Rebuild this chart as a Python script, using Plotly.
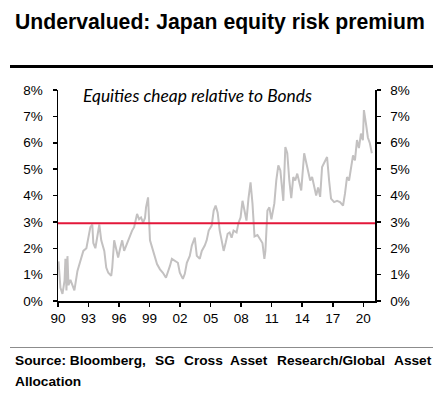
import plotly.graph_objects as go

# ---- data (decimal years, equity risk premium in %) ----
years = [1990.05, 1990.24, 1990.44, 1990.64, 1990.73, 1990.83, 1990.93, 1991.03, 1991.22, 1991.42,
         1991.61, 1991.91, 1992.20, 1992.49, 1992.79, 1992.98, 1993.18, 1993.37, 1993.47, 1993.67,
         1993.86, 1994.06, 1994.25, 1994.55, 1994.74, 1994.94, 1995.23, 1995.33, 1995.52, 1995.72,
         1995.91, 1996.11, 1996.31, 1996.50, 1996.70, 1996.89, 1997.09, 1997.28, 1997.48, 1997.77,
         1997.97, 1998.16, 1998.36, 1998.55, 1998.65, 1998.85, 1999.04, 1999.34, 1999.73, 2000.02,
         2000.31, 2000.61, 2000.80, 2001.00, 2001.19, 2001.49, 2001.78, 2001.97, 2002.27, 2002.46,
         2002.66, 2002.95, 2003.15, 2003.44, 2003.64, 2003.93, 2004.13, 2004.42, 2004.61, 2004.81,
         2005.10, 2005.30, 2005.49, 2005.69, 2005.89, 2006.08, 2006.28, 2006.47, 2006.67, 2006.86,
         2007.06, 2007.25, 2007.55, 2007.74, 2007.94, 2008.13, 2008.33, 2008.52, 2008.72, 2008.92,
         2009.11, 2009.31, 2009.60, 2009.89, 2010.09, 2010.28, 2010.38, 2010.58, 2010.77, 2010.97,
         2011.26, 2011.45, 2011.65, 2011.85, 2012.04, 2012.14, 2012.34, 2012.53, 2012.73, 2012.92,
         2013.12, 2013.31, 2013.51, 2013.71, 2013.90, 2014.19, 2014.39, 2014.58, 2014.78, 2014.97,
         2015.17, 2015.37, 2015.56, 2015.76, 2015.95, 2016.25, 2016.44, 2016.64, 2016.83, 2017.13,
         2017.42, 2017.71, 2018.01, 2018.20, 2018.40, 2018.60, 2018.79, 2018.99, 2019.18, 2019.38,
         2019.57, 2019.77, 2019.96, 2020.06, 2020.26, 2020.45, 2020.65, 2020.84]
erp = [1.50, 0.50, 0.27, 0.76, 1.60, 0.40, 1.70, 0.60, 0.80, 0.60,
       0.40, 1.14, 1.50, 1.90, 2.00, 2.40, 2.80, 2.90, 2.20, 2.00,
       2.40, 2.90, 2.30, 1.90, 1.27, 1.07, 0.95, 1.26, 2.30, 2.00,
       1.65, 2.00, 2.30, 1.90, 2.10, 2.30, 2.55, 2.67, 2.80, 3.30,
       3.10, 3.17, 2.97, 3.15, 3.55, 3.93, 2.30, 1.90, 1.40, 1.20,
       1.07, 0.88, 1.07, 1.33, 1.60, 1.52, 1.45, 1.07, 0.84, 1.03,
       1.45, 1.71, 2.10, 2.40, 1.71, 1.60, 1.90, 2.10, 2.30, 2.67,
       2.86, 3.43, 3.62, 3.35, 2.67, 2.30, 1.90, 2.20, 2.55, 2.60,
       2.40, 2.67, 2.60, 2.97, 3.17, 3.80, 3.43, 3.05, 3.90, 4.50,
       3.70, 2.45, 2.50, 2.35, 2.20, 1.60, 1.90, 3.43, 3.55, 3.10,
       3.70, 4.57, 5.14, 4.95, 4.19, 3.80, 5.84, 5.60, 4.57, 3.90,
       4.70, 4.57, 4.83, 4.45, 4.19, 5.60, 5.20, 4.83, 4.57, 4.70,
       4.30, 4.00, 4.30, 3.95, 5.08, 5.33, 5.46, 4.57, 3.88, 3.75,
       3.80, 3.75, 3.62, 4.07, 4.70, 4.57, 5.02, 5.52, 5.33, 6.10,
       5.80, 6.35, 6.10, 7.24, 6.73, 6.20, 5.97, 5.60]
threshold = 2.95
x_tickvals = [1990, 1993, 1996, 1999, 2002, 2005, 2008, 2011, 2014, 2017, 2020]
x_ticktext = ["90", "93", "96", "99", "02", "05", "08", "11", "14", "17", "20"]
y_tickvals = [0, 1, 2, 3, 4, 5, 6, 7, 8]
y_ticktext = ["0%", "1%", "2%", "3%", "4%", "5%", "6%", "7%", "8%"]
x_range = [1990, 2021.15]

title_text = "Undervalued: Japan equity risk premium"
note_text = "Equities cheap relative to Bonds"
source_words = ["Source: Bloomberg,", "SG", "Cross", "Asset", "Research/Global", "Asset"]
source_line2 = "Allocation"

# ---- layout geometry ----
W, H = 444, 397
L, R, T, B = 58, 69, 90, 96
PW, PH = W - L - R, H - T - B


def px(xp):
    return (xp - L) / PW


def py(yp):
    return (H - B - yp) / PH


FONT = "Liberation Sans, Arial, sans-serif"

fig = go.Figure()
fig.add_trace(go.Scatter(x=years, y=erp, mode="lines",
                         line=dict(color="#c3c1c1", width=2), hoverinfo="skip",
                         showlegend=False))
fig.add_trace(go.Scatter(x=x_range, y=[threshold, threshold], mode="lines",
                         line=dict(color="#e3173a", width=2), hoverinfo="skip",
                         showlegend=False))
fig.add_trace(go.Scatter(x=[x_range[0]], y=[None], yaxis="y2", showlegend=False,
                         hoverinfo="skip"))

axis_common = dict(showgrid=False, zeroline=False, showline=True, linecolor="black",
                   linewidth=1.5, ticks="outside", tickcolor="black", tickwidth=1.5,
                   tickfont=dict(family=FONT, size=13.5, color="black"))

fig.update_layout(
    width=W, height=H, autosize=False,
    margin=dict(l=L, r=R, t=T, b=B, pad=0),
    paper_bgcolor="white", plot_bgcolor="white",
    xaxis=dict(range=x_range, tickvals=x_tickvals, ticktext=x_ticktext, ticklen=4,
               ticklabelstandoff=0, **axis_common),
    yaxis=dict(range=[0, 8], tickvals=y_tickvals, ticktext=y_ticktext, ticklen=4,
               ticklabelstandoff=7, **axis_common),
    yaxis2=dict(range=[0, 8], tickvals=y_tickvals, ticktext=y_ticktext, ticklen=4,
                overlaying="y", side="right", anchor="x", ticklabelstandoff=7,
                **axis_common),
)

annotations = [
    dict(text="<b>" + title_text + "</b>", x=px(13), y=py(22), xanchor="left", yanchor="middle",
         font=dict(family=FONT, size=21.2, color="black")),
    dict(text="<i>" + note_text + "</i>", x=px(81), y=py(95), xanchor="left", yanchor="middle",
         font=dict(family="Lato, Open Sans, sans-serif", size=17.4, color="black")),
]
word_x = [13, 153, 182, 228, 275, 392]
for wx, w in zip(word_x, source_words):
    annotations.append(dict(text="<b>" + w + "</b>", x=px(wx), y=py(360), xanchor="left",
                            yanchor="middle", font=dict(family=FONT, size=13.7, color="black")))
annotations.append(dict(text="<b>" + source_line2 + "</b>", x=px(13), y=py(381), xanchor="left",
                        yanchor="middle", font=dict(family=FONT, size=13.7, color="black")))
for a in annotations:
    a.update(xref="paper", yref="paper", showarrow=False)
fig.update_layout(annotations=annotations)

fig.update_layout(shapes=[
    dict(type="line", xref="paper", yref="paper", x0=px(10), x1=px(433), y0=py(66.5), y1=py(66.5),
         line=dict(color="black", width=3)),
    dict(type="line", xref="paper", yref="paper", x0=px(10), x1=px(433), y0=py(347.5), y1=py(347.5),
         line=dict(color="#8c8c8c", width=1)),
])

fig.write_html("out.html", config={"displayModeBar": False, "staticPlot": True},
               post_script="document.body.style.margin='0';document.body.style.overflow='hidden';")
